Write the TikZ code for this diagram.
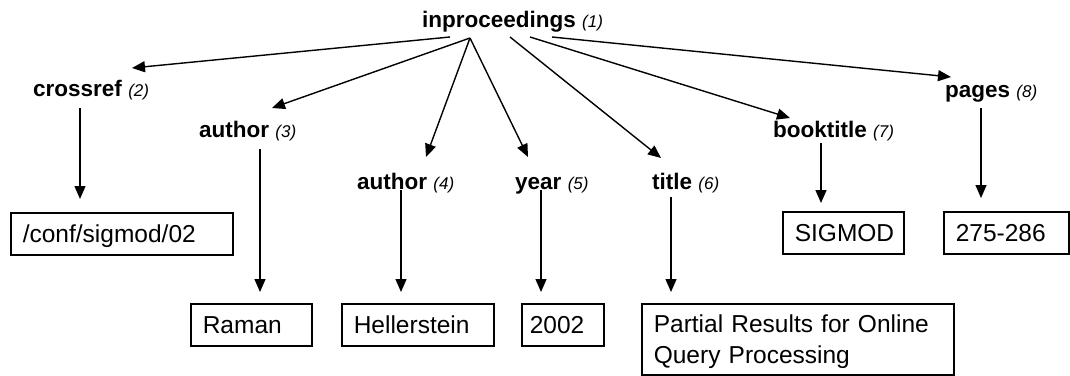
\documentclass[tikz,border=0pt]{standalone}
\usepackage{fontspec}
\setmainfont{Liberation Sans}
\usetikzlibrary{arrows.meta}
\newcommand\elnum[1]{{\normalfont\itshape\fontsize{17}{17}\selectfont(#1)}}

\begin{document}
\begin{tikzpicture}[
  x=1pt, y=-1pt,
  lbl/.style={inner sep=0pt, anchor=base west,
              font=\fontsize{22.5}{27}\selectfont\bfseries},
  valbox/.style={draw, line width=1.6pt, anchor=north west,
                 inner xsep=12pt, inner ysep=0pt, text height=30pt,
                 text depth=12pt, align=left,
                 font=\fontsize{24.5}{31}\selectfont},
  arr/.style={-{Triangle[length=13pt, width=11pt]}, line width=1.4pt}
]
  \useasboundingbox (0,0) rectangle (1070,375);

  \node[lbl] (root) at (422,27) {inproceedings \elnum{1}};
  \node[lbl] (cr) at (33,96) {crossref \elnum{2}};
  \node[lbl] (au1) at (199,137) {author \elnum{3}};
  \node[lbl] (au2) at (357,189) {author \elnum{4}};
  \node[lbl] (yr) at (515,189) {year \elnum{5}};
  \node[lbl] (ti) at (652,189) {title \elnum{6}};
  \node[lbl] (bt) at (773,137) {booktitle \elnum{7}};
  \node[lbl] (pg) at (945,97) {pages \elnum{8}};

  \node[valbox, text width=198pt] (vcr) at (10,212) {/conf/sigmod/02};
  \node[valbox, text width=97pt] (vau1) at (190,303) {Raman};
  \node[valbox, text width=128pt] (vau2) at (341,303) {Hellerstein};
  \node[valbox, text width=66pt, inner xsep=8pt] (vyr) at (521,303) {2002};
  \node[valbox, text width=288pt, text height=29pt, text depth=42pt] (vti)
    at (641,303) {Partial Results for Online\\Query Processing};
  \node[valbox, text width=97pt] (vbt) at (782,211) {SIGMOD};
  \node[valbox, text width=101pt] (vpg) at (943,211) {275-286};

  \draw[arr] ([shift={(28,10)}]root.base west) -- ([shift={(99,-28)}]cr.base west);
  \draw[arr] ([shift={(48,11)}]root.base west) -- ([shift={(73,-29)}]au1.base west);
  \draw[arr] ([shift={(48,11)}]root.base west) -- ([shift={(69,-32)}]au2.base west);
  \draw[arr] ([shift={(48,11)}]root.base west) -- ([shift={(13,-32)}]yr.base west);
  \draw[arr] ([shift={(88,10)}]root.base west) -- ([shift={(9,-31)}]ti.base west);
  \draw[arr] ([shift={(108,10)}]root.base west) -- ([shift={(17,-19)}]bt.base west);
  \draw[arr] ([shift={(130,10)}]root.base west) -- ([shift={(6,-20)}]pg.base west);

  \draw[arr] ([shift={(47,12)}]cr.base west) -- ([shift={(70,-13)}]vcr.north west);
  \draw[arr] ([shift={(61,12)}]au1.base west) -- ([shift={(70,-11)}]vau1.north west);
  \draw[arr] ([shift={(44,1)}]au2.base west) -- ([shift={(60,-11)}]vau2.north west);
  \draw[arr] ([shift={(26,1)}]yr.base west) -- ([shift={(20,-11)}]vyr.north west);
  \draw[arr] ([shift={(19,8)}]ti.base west) -- ([shift={(30,-11)}]vti.north west);
  \draw[arr] ([shift={(48,6)}]bt.base west) -- ([shift={(39,-8)}]vbt.north west);
  \draw[arr] ([shift={(36,11)}]pg.base west) -- ([shift={(38,-13)}]vpg.north west);
\end{tikzpicture}
\end{document}
